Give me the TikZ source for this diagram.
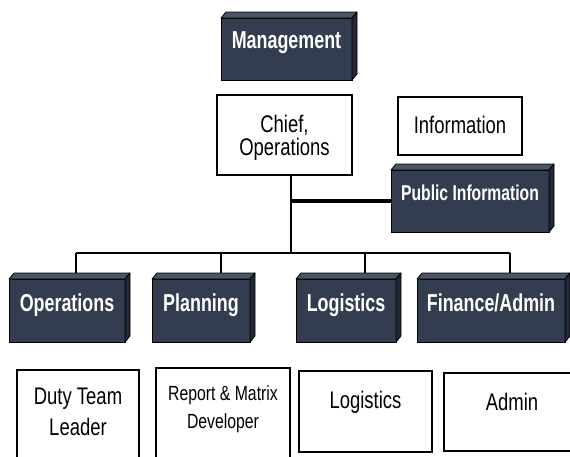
\documentclass[tikz,border=0pt]{standalone}
\usepackage{fontspec}
\setmainfont{Liberation Sans}
\newfontfamily\nreg[FakeStretch=0.77]{Liberation Sans}
\newfontfamily\nbold[FakeStretch=0.73]{Liberation Sans}
\usetikzlibrary{backgrounds}
\definecolor{slate}{HTML}{343D50}
\definecolor{slatetop}{HTML}{4A5466}
\definecolor{slateside}{HTML}{222833}
\definecolor{shade}{HTML}{8D97A5}
\tikzset{
  darkbox/.style={draw=black, line width=1pt, fill=slate, text=white, inner sep=0pt, outer sep=0pt,
    font=\nbold\bfseries\fontsize{24.5}{26}\selectfont},
  whitebox/.style={draw=black, line width=1.2pt, fill=white, inner sep=0pt, outer sep=0pt,
    font=\nreg\fontsize{24}{20}\selectfont},
  conn/.style={draw=black, line width=1.8pt},
  thickconn/.style={draw=black, line width=4.5pt},
  topface/.style={fill=slatetop, draw=black, line width=0.8pt, line join=round},
  sideface/.style={fill=slateside, draw=black, line width=0.8pt, line join=round},
  boxshadow/.style={fill=shade},
}
\begin{document}
\begin{tikzpicture}[x=1pt,y=-1pt]
\useasboundingbox (0,0) rectangle (570,456);
\clip (0,0) rectangle (570,456);
\fill[white] (0,0) rectangle (570,456);

% dark 3D boxes
\node[darkbox, minimum width=131, minimum height=62, text height=18pt, text depth=20pt] (Mgmt) at (286.5,49) {Management};
\node[darkbox, minimum width=158, minimum height=62, text height=18pt, text depth=20pt,
  font=\nbold\bfseries\fontsize{21.5}{23}\selectfont] (PubInfo) at (470,201) {Public Information};
\node[darkbox, minimum width=116, minimum height=63, text height=21pt, text depth=20pt] (Ops) at (67,310.5) {Operations};
\node[darkbox, minimum width=98, minimum height=63, text height=21pt, text depth=20pt] (Plan) at (201,310.5) {Planning};
\node[darkbox, minimum width=100, minimum height=63, text height=21pt, text depth=20pt] (LogD) at (346,310.5) {Logistics};
\node[darkbox, minimum width=148, minimum height=63, text height=21pt, text depth=20pt] (Fin) at (491,310.5) {Finance/Admin};

% white boxes
\node[whitebox, minimum width=135, minimum height=80, text height=24pt, text depth=30pt] (Chief) at (284.5,135)
  {\begin{tabular}[t]{@{}c@{}}Chief,\\Operations\end{tabular}};
\node[whitebox, minimum width=124, minimum height=58, text height=32pt, text depth=18pt] (Info) at (460,126) {Information};
\node[whitebox, minimum width=122, minimum height=110, text height=18pt, text depth=60pt,
  font=\nreg\fontsize{24}{31}\selectfont] (Duty) at (78,425)
  {\begin{tabular}[t]{@{}c@{}}Duty Team\\Leader\end{tabular}};
\node[whitebox, minimum width=134, minimum height=110, text height=14pt, text depth=60pt,
  font=\nreg\fontsize{20.5}{28}\selectfont] (Report) at (223,423)
  {\begin{tabular}[t]{@{}c@{}}Report \& Matrix\\Developer\end{tabular}};
\node[whitebox, minimum width=133, minimum height=81, text height=23pt, text depth=30pt] (LogW) at (365.5,411.5) {Logistics};
\node[whitebox, minimum width=136, minimum height=78, text height=26pt, text depth=30pt] (Admin) at (512,412) {Admin};

% shadows behind dark boxes
\begin{pgfonlayer}{background}
\foreach \n in {Mgmt,PubInfo,Ops,Plan,LogD,Fin}{
  \fill[boxshadow] ([shift={(4,4)}]\n.north west) rectangle ([shift={(8,5)}]\n.south east);
}
\end{pgfonlayer}

% connectors
\coordinate (bus) at (291,253);
\coordinate (d1) at (76,253);
\coordinate (d2) at (221,253);
\coordinate (d3) at (365,253);
\coordinate (d4) at (510,253);
\draw[conn] (Chief.south -| bus) -- (bus);
\draw[thickconn] (bus |- PubInfo.west) -- (PubInfo.west);
\draw[conn] (d1) -- (d4);
\draw[conn] (d1) -- (d1 |- Ops.north);
\draw[conn] (d2) -- (d2 |- Plan.north);
\draw[conn] (d3) -- (d3 |- LogD.north);
\draw[conn] (d4) -- (d4 |- Fin.north);

% 3D faces
\foreach \n in {Mgmt,PubInfo,Ops,Plan,LogD,Fin}{
  \path[topface] (\n.north west) -- ++(5,-6) -- ([shift={(5,-6)}]\n.north east) -- (\n.north east) -- cycle;
  \path[sideface] (\n.north east) -- ++(5,-6) -- ([shift={(5,-6)}]\n.south east) -- (\n.south east) -- cycle;
}
\end{tikzpicture}
\end{document}
